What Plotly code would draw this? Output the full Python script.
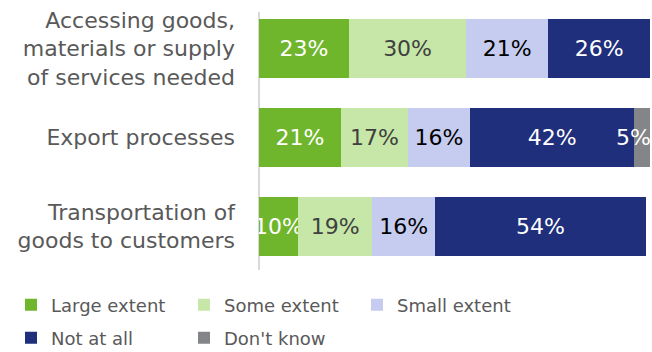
import plotly.graph_objects as go

categories = [
    "Accessing goods,<br>materials or supply<br>of services needed",
    "Export processes",
    "Transportation of<br>goods to customers",
]
series_names = ["Large extent", "Some extent", "Small extent", "Not at all", "Don't know"]
large_extent = [23, 21, 10]
some_extent = [30, 17, 19]
small_extent = [21, 16, 16]
not_at_all = [26, 42, 54]
dont_know = [None, 5, None]

colors = ["#70B62C", "#C6E7A7", "#C5CCEF", "#1F2F7B", "#848588"]
text_colors = ["#FFFFFF", "#404040", "#000000", "#FFFFFF", "#FFFFFF"]
legend_ids = ["legend", "legend", "legend", "legend2", "legend2"]
values = [large_extent, some_extent, small_extent, not_at_all, dont_know]

FONT = "DejaVu Sans"
fig = go.Figure()
for name, vals, col, tcol, lg in zip(series_names, values, colors, text_colors, legend_ids):
    fig.add_trace(go.Bar(
        y=categories,
        x=vals,
        name=name,
        orientation="h",
        legend=lg,
        marker=dict(color=col, line=dict(width=0)),
        text=[f"{v}%" if v is not None else "" for v in vals],
        textposition="inside",
        insidetextanchor="end" if name == "Don't know" else "middle",
        textangle=0,
        constraintext="none",
        insidetextfont=dict(color=tcol, size=22, family=FONT),
        hoverinfo="skip",
    ))

legend_common = dict(
    orientation="h",
    xref="container",
    yref="container",
    x=11 / 652,
    xanchor="left",
    yanchor="middle",
    entrywidth=128,
    entrywidthmode="pixels",
    traceorder="normal",
    font=dict(size=18, color="#595959", family=FONT),
    itemwidth=30,
    bgcolor="rgba(0,0,0,0)",
)

fig.update_layout(
    barmode="stack",
    bargap=0.34,
    width=652,
    height=352,
    margin=dict(l=0, r=2, t=4, b=0, autoexpand=False),
    paper_bgcolor="white",
    plot_bgcolor="white",
    font=dict(family=FONT, size=22, color="#595959"),
    xaxis=dict(range=[0, 100], visible=False, fixedrange=True, domain=[259 / 650, 1]),
    yaxis=dict(
        autorange="reversed",
        domain=[(352 - 271) / 348, 1],
        showgrid=False,
        zeroline=False,
        showline=False,
        ticks="",
        ticklabelstandoff=23,
        tickfont=dict(size=22, color="#595959", family=FONT),
    ),
    showlegend=True,
    legend=dict(legend_common, y=1 - 305 / 352),
    legend2=dict(legend_common, y=1 - 338 / 352),
    shapes=[dict(
        type="line", xref="paper", yref="paper",
        x0=259 / 650, x1=259 / 650, y0=(352 - 270) / 348, y1=(352 - 12) / 348,
        line=dict(color="#D9D9D9", width=2),
        layer="below",
    )],
)

fig.write_html("out.html")
